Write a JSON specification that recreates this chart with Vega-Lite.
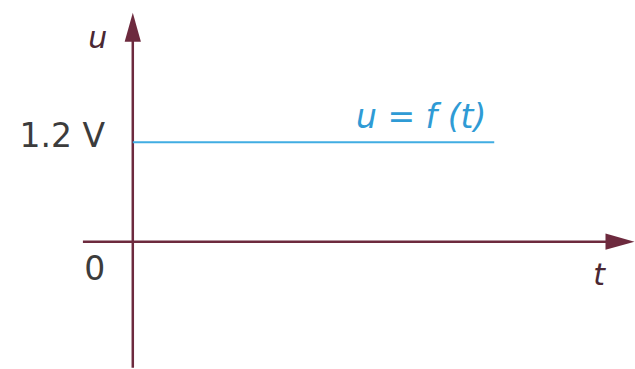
{
  "$schema": "https://vega.github.io/schema/vega-lite/v6.json",
  "width": 635,
  "height": 369,
  "autosize": {"type": "fit", "contains": "padding"},
  "padding": 0,
  "background": "white",
  "config": {"view": {"stroke": null}},
  "datasets": {
    "axes": [
      {"axis": "u", "t1": 0, "t2": 0, "u1": -1.52, "u2": 2.42},
      {"axis": "t", "t1": -1.38, "t2": 13.1, "u1": 0, "u2": 0}
    ],
    "arrows": [
      {"axis": "u", "t": 0, "u": 2.586},
      {"axis": "t", "t": 13.48, "u": 0}
    ],
    "signal": [
      {"t": 0, "u": 1.2},
      {"t": 10, "u": 1.2}
    ],
    "plain": [
      {"label": "1.2 V", "t": -1.95, "u": 1.14},
      {"label": "0", "t": -1.05, "u": -0.468}
    ],
    "vars": [
      {"label": "u", "t": -0.967, "u": 2.34},
      {"label": "t", "t": 12.9, "u": -0.528}
    ],
    "func": [
      {"label": "u = f (t)", "t": 7.98, "u": 1.37}
    ]
  },
  "layer": [
    {
      "data": {"name": "axes"},
      "mark": {"type": "rule", "color": "#6d2a3e", "strokeWidth": 2.5},
      "encoding": {
        "x": {"field": "t1", "type": "quantitative", "scale": {"domain": [-3.674, 13.867], "nice": false, "zero": false}, "axis": null},
        "x2": {"field": "t2"},
        "y": {"field": "u1", "type": "quantitative", "scale": {"domain": [-1.512, 2.916], "nice": false, "zero": false}, "axis": null},
        "y2": {"field": "u2"}
      }
    },
    {
      "data": {"name": "arrows"},
      "mark": {"type": "point", "filled": true, "color": "#6d2a3e", "opacity": 1, "size": 841, "strokeWidth": 0},
      "encoding": {
        "x": {"field": "t", "type": "quantitative", "axis": null},
        "y": {"field": "u", "type": "quantitative", "axis": null},
        "shape": {"field": "axis", "type": "nominal", "legend": null,
          "scale": {"domain": ["u", "t"], "range": ["M-0.56,1L0.56,1L0,-1Z", "M-1,-0.56L-1,0.56L1,0Z"]}}
      }
    },
    {
      "data": {"name": "signal"},
      "mark": {"type": "line", "color": "#41ade2", "strokeWidth": 2},
      "encoding": {
        "x": {"field": "t", "type": "quantitative", "axis": null},
        "y": {"field": "u", "type": "quantitative", "axis": null}
      }
    },
    {
      "data": {"name": "plain"},
      "mark": {"type": "text", "font": "DejaVu Sans", "fontSize": 33, "color": "#3c3c3c", "align": "center", "baseline": "alphabetic"},
      "encoding": {
        "x": {"field": "t", "type": "quantitative", "axis": null},
        "y": {"field": "u", "type": "quantitative", "axis": null},
        "text": {"field": "label"}
      }
    },
    {
      "data": {"name": "vars"},
      "mark": {"type": "text", "font": "DejaVu Sans", "fontStyle": "italic", "fontSize": 30, "color": "#4a2833", "align": "center", "baseline": "alphabetic"},
      "encoding": {
        "x": {"field": "t", "type": "quantitative", "axis": null},
        "y": {"field": "u", "type": "quantitative", "axis": null},
        "text": {"field": "label"}
      }
    },
    {
      "data": {"name": "func"},
      "mark": {"type": "text", "font": "DejaVu Sans", "fontStyle": "italic", "fontSize": 33, "color": "#2f9bd5", "align": "center", "baseline": "alphabetic"},
      "encoding": {
        "x": {"field": "t", "type": "quantitative", "axis": null},
        "y": {"field": "u", "type": "quantitative", "axis": null},
        "text": {"field": "label"}
      }
    }
  ]
}
